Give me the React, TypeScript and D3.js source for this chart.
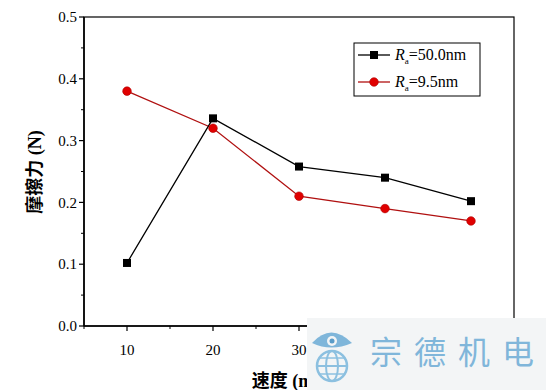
import React from 'react';
import * as d3 from 'd3';

const speeds = [10, 20, 30, 40, 50];
const rough = [0.102, 0.336, 0.258, 0.240, 0.202];
const smooth = [0.380, 0.320, 0.210, 0.190, 0.170];
const yTicks = [0, 0.1, 0.2, 0.3, 0.4, 0.5];
const xTicks = [10, 20, 30, 40, 50];

export default function App() {
  const width = 555;
  const height = 390;
  const left = 84, right = 514, top = 17, bottom = 326;

  const x = d3.scaleLinear().domain([5, 55]).range([left, right]);
  const y = d3.scaleLinear().domain([0, 0.5]).range([bottom, top]);

  const line = d3.line<number>()
    .x((d, i) => x(speeds[i]))
    .y(d => y(d));

  const serif = 'Liberation Serif, DejaVu Serif, serif';
  const cjk = 'Liberation Serif, Noto Sans CJK SC, serif';

  const yMinor = d3.range(0.05, 0.5, 0.1);
  const xMinor = d3.range(5, 56, 10);

  return (
    <svg width={width} height={height} style={{ position: 'absolute', left: 0, top: 0, background: '#fff' }}>
      {/* frame */}
      <rect x={left} y={top} width={right - left} height={bottom - top} fill="none" stroke="#000" strokeWidth={1.2} />
      <line x1={left} x2={left} y1={top} y2={bottom} stroke="#000" strokeWidth={1.6} />
      <line x1={left} x2={right} y1={bottom} y2={bottom} stroke="#000" strokeWidth={1.6} />

      {/* y axis */}
      {yTicks.map(t => (
        <g key={'y' + t}>
          <line x1={left - 5} x2={left} y1={y(t)} y2={y(t)} stroke="#000" strokeWidth={1.2} />
          <text x={left - 7} y={y(t)} dy="0.35em" textAnchor="end" fontSize={15} style={{ fontFamily: serif }}>{d3.format('.1f')(t)}</text>
        </g>
      ))}
      {yMinor.map(t => (
        <line key={'ym' + t} x1={left - 3} x2={left} y1={y(t)} y2={y(t)} stroke="#000" strokeWidth={1} />
      ))}

      {/* x axis */}
      {xTicks.map(t => (
        <g key={'x' + t}>
          <line x1={x(t)} x2={x(t)} y1={bottom} y2={bottom + 5} stroke="#000" strokeWidth={1.2} />
          <text x={x(t)} y={bottom + 29} textAnchor="middle" fontSize={15} style={{ fontFamily: serif }}>{t}</text>
        </g>
      ))}
      {xMinor.map(t => (
        <line key={'xm' + t} x1={x(t)} x2={x(t)} y1={bottom} y2={bottom + 3} stroke="#000" strokeWidth={1} />
      ))}

      {/* series */}
      <path d={line(smooth) || ''} fill="none" stroke="#b01010" strokeWidth={1.3} />
      <path d={line(rough) || ''} fill="none" stroke="#000" strokeWidth={1.3} />
      {rough.map((v, i) => (
        <rect key={'r' + i} x={x(speeds[i]) - 4} y={y(v) - 4} width={8} height={8} fill="#000" />
      ))}
      {smooth.map((v, i) => (
        <circle key={'s' + i} cx={x(speeds[i])} cy={y(v)} r={4.3} fill="#e00000" stroke="#b00000" strokeWidth={0.6} />
      ))}

      {/* legend */}
      <rect x={354} y={43} width={126} height={53} fill="#fff" stroke="#000" strokeWidth={1} />
      <line x1={358} x2={390} y1={55} y2={55} stroke="#000" strokeWidth={1.3} />
      <rect x={370} y={51} width={8} height={8} fill="#000" />
      <text x={395} y={60} fontSize={16} style={{ fontFamily: serif }}>
        <tspan fontStyle="italic">R</tspan><tspan fontSize={9} dy={4}>a</tspan><tspan dy={-4}>=50.0nm</tspan>
      </text>
      <line x1={358} x2={390} y1={82} y2={82} stroke="#b01010" strokeWidth={1.3} />
      <circle cx={374} cy={82} r={4.3} fill="#e00000" stroke="#b00000" strokeWidth={0.6} />
      <text x={395} y={87} fontSize={16} style={{ fontFamily: serif }}>
        <tspan fontStyle="italic">R</tspan><tspan fontSize={9} dy={4}>a</tspan><tspan dy={-4}>=9.5nm</tspan>
      </text>

      {/* axis titles */}
      <text transform={`translate(41, 172) rotate(-90)`} textAnchor="middle" fontSize={18} fontWeight="bold" style={{ fontFamily: cjk }}>摩擦力 (N)</text>
      <text x={(left + right) / 2} y={387} textAnchor="middle" fontSize={18} fontWeight="bold" style={{ fontFamily: cjk }}>速度 (mm/s)</text>

      {/* watermark */}
      <rect x={307} y={318} width={239} height={72} fill="#f3f5f6" />
      <g>
        <path d="M312,343 Q331,322 352,343 Q331,352 312,343 Z" fill="#7fb6da" />
        <circle cx={332} cy={341} r={5} fill="#f3f5f6" />
        <circle cx={332} cy={341} r={2.5} fill="#5a9cc8" />
        <circle cx={332} cy={366} r={15} fill="none" stroke="#8cc0e0" strokeWidth={2.5} />
        <ellipse cx={332} cy={366} rx={6} ry={15} fill="none" stroke="#8cc0e0" strokeWidth={2} />
        <line x1={317} x2={347} y1={366} y2={366} stroke="#8cc0e0" strokeWidth={2} />
        <line x1={320} x2={344} y1={358} y2={358} stroke="#8cc0e0" strokeWidth={1.5} />
        <line x1={320} x2={344} y1={374} y2={374} stroke="#8cc0e0" strokeWidth={1.5} />
      </g>
      <text x={370} y={364} fontSize={32} fill="#80b6da" style={{ fontFamily: 'Noto Sans CJK SC, sans-serif' }} letterSpacing={12}>宗德机电</text>
    </svg>
  );
}
